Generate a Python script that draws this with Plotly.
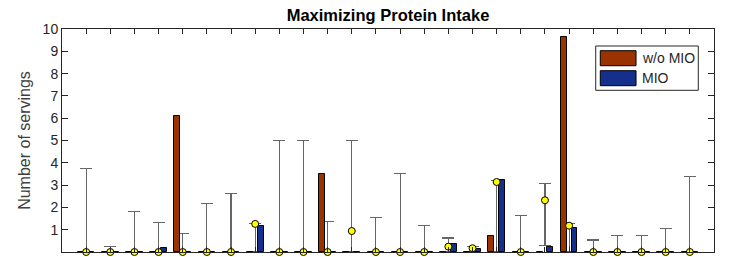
import plotly.graph_objects as go

# ---- data ----
food_index = list(range(1, 27))
series_names = ["w/o MIO", "MIO"]
servings_wo_mio = [0, 0, 0, 0, 6.11, 0, 0, 0, 0, 0, 3.48, 0, 0, 0, 0, 0, 0, 0.72, 0, 0, 9.63, 0, 0, 0, 0, 0]
servings_mio = [0, 0, 0, 0.17, 0, 0, 0, 1.17, 0, 0, 0, 0, 0, 0, 0, 0.35, 0.13, 3.23, 0, 0.24, 1.09, 0, 0, 0, 0, 0]
mean_servings = [0, 0, 0, 0, 0, 0, 0, 1.26, 0, 0, 0, 0.94, 0, 0, 0, 0.24, 0.17, 3.14, 0, 2.32, 1.18, 0, 0, 0, 0, 0]
range_low = [0, 0, 0, 0, 0, 0, 0, 0, 0, 0, 0, 0, 0, 0, 0, 0, 0, 0, 0, 0.28, 0, 0, 0, 0, 0, 0]
range_high = [3.75, 0.24, 1.81, 1.31, 0.81, 2.18, 2.63, 1.27, 4.99, 5.0, 1.38, 5.0, 1.54, 3.51, 1.18,
              0.63, 0.25, 3.2, 1.63, 3.08, 1.27, 0.54, 0.73, 0.75, 1.06, 3.38]
y_ticks = [1, 2, 3, 4, 5, 6, 7, 8, 9, 10]

ORANGE = "#993300"
BLUE = "#15308c"
AXIS = "#262626"
FONT = "Liberation Sans, Arial, Helvetica, sans-serif"
OFFSET = 0.222
BAR_W = 0.245

err_plus = [h - m for h, m in zip(range_high, mean_servings)]
err_minus = [m - l for m, l in zip(mean_servings, range_low)]

fig = go.Figure()

# error bars (drawn beneath the bars)
fig.add_trace(go.Bar(
    x=food_index, y=mean_servings, width=0.02,
    marker=dict(color="rgba(0,0,0,0)", line=dict(width=0)),
    error_y=dict(type="data", symmetric=False, array=err_plus, arrayminus=err_minus,
                 color="#666666", thickness=1.1, width=6),
    showlegend=False, hoverinfo="skip",
))
fig.add_trace(go.Bar(
    x=[i - OFFSET for i in food_index], y=servings_wo_mio, width=BAR_W,
    name=series_names[0], marker=dict(color=ORANGE, line=dict(color="black", width=1)),
    showlegend=False,
))
fig.add_trace(go.Bar(
    x=[i + OFFSET for i in food_index], y=servings_mio, width=BAR_W,
    name=series_names[1], marker=dict(color=BLUE, line=dict(color="black", width=1)),
    showlegend=False,
))
fig.add_trace(go.Scatter(
    x=food_index, y=mean_servings, mode="markers",
    marker=dict(size=7, color="#ffff00", line=dict(color="black", width=1)),
    cliponaxis=False, showlegend=False,
))

# custom MATLAB-style legend box
lx0, lx1, ly0, ly1 = 0.8186, 0.9759, 0.7251, 0.9238
shapes = [dict(type="rect", xref="paper", yref="paper", x0=lx0, x1=lx1, y0=ly0, y1=ly1,
               line=dict(color=AXIS, width=1), fillcolor="white", layer="above")]
swatch_rows = [(0.9027, 0.8354, ORANGE), (0.8130, 0.7457, BLUE)]
annotations = []
for (top, bot, col), name in zip(swatch_rows, series_names):
    shapes.append(dict(type="rect", xref="paper", yref="paper", x0=0.8256, x1=0.8804,
                       y0=bot, y1=top, line=dict(color="black", width=1),
                       fillcolor=col, layer="above"))
    annotations.append(dict(xref="paper", yref="paper", x=0.8865, y=(top + bot) / 2,
                            text=name, showarrow=False, xanchor="left", yanchor="middle",
                            font=dict(family=FONT, size=14, color=AXIS)))

fig.update_layout(
    width=747, height=257,
    margin=dict(l=62, r=33, t=29, b=5, autoexpand=False),
    paper_bgcolor="white", plot_bgcolor="white",
    barmode="overlay", bargap=0,
    title=dict(text="<b>Maximizing Protein Intake</b>", x=0.5, xref="paper",
               y=1 - 15.5 / 257, yref="container", xanchor="center", yanchor="middle",
               font=dict(family=FONT, size=16.5, color="black"), automargin=False),
    shapes=shapes, annotations=annotations,
    font=dict(family=FONT, color=AXIS),
)
fig.update_xaxes(range=[0, 27], tickvals=food_index, showticklabels=False, automargin=False,
                 ticks="inside", ticklen=5, tickcolor=AXIS, showline=True, linecolor=AXIS,
                 linewidth=1, mirror="ticks", showgrid=False, zeroline=False)
fig.update_yaxes(range=[0, 10], tickvals=y_ticks, ticks="inside", ticklen=6, tickcolor=AXIS,
                 showline=True, linecolor=AXIS, linewidth=1, mirror="ticks", showgrid=False,
                 zeroline=False, automargin=False, tickfont=dict(family=FONT, size=14, color=AXIS),
                 title=dict(text="Number of servings", standoff=8,
                            font=dict(family=FONT, size=16, color="#404040")))

fig.write_html("out.html", config={"displayModeBar": False},
               post_script="document.body.style.margin='0px';document.body.style.overflow='hidden';")
